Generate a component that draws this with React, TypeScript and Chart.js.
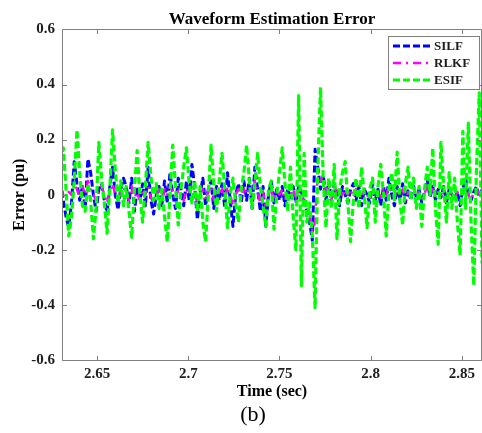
import React, { useEffect, useRef } from "react";
import { Chart, registerables } from "chart.js";

Chart.register(...registerables);

const FONT = "'Liberation Serif', 'Times New Roman', serif";

// sampling grid of the recorded signals
const t0 = 2.63;
const dt = 0.0015;

// axis limits and ticks
const X_MIN = 2.6308;
const X_MAX = 2.861;
const Y_MIN = -0.6;
const Y_MAX = 0.6;
const xTicks = [2.65, 2.7, 2.75, 2.8, 2.85];
const xTickLabels = ["2.65", "2.7", "2.75", "2.8", "2.85"];
const yTicks = [-0.6, -0.4, -0.2, 0, 0.2, 0.4, 0.6];
const yTickLabels = ["-0.6", "-0.4", "-0.2", "0", "0.2", "0.4", "0.6"];

const seriesNames = ["SILF", "RLKF", "ESIF"];
const chartTitle = "Waveform Estimation Error";
const panelLabel = "(b)";

const esif = [
  0.12, 0.17, 0.02, -0.15, -0.08, 0.05, 0.235, 0.08, -0.04, -0.06,
  0.04, -0.02, -0.16, -0.05, 0.19, 0.06, -0.03, -0.14, 0.02, 0.235,
  0.09, -0.03, 0.05, -0.04, 0.03, -0.06, -0.155, 0.02, 0.16, 0.0,
  -0.1, 0.03, 0.19, 0.07, -0.02, 0.04, -0.05, 0.02, -0.08, -0.17,
  0.0, 0.18, 0.03, -0.11, 0.02, 0.1, 0.17, 0.04, -0.03, 0.05,
  -0.06, 0.03, -0.1, -0.17, 0.0, 0.18, 0.04, -0.06, 0.05, 0.15,
  0.02, -0.12, 0.0, 0.06, -0.03, -0.1, 0.02, 0.08, 0.18, 0.05,
  -0.05, 0.04, 0.15, 0.03, -0.04, -0.115, 0.02, 0.05, -0.125, 0.0,
  0.08, 0.17, 0.04, -0.06, 0.1, -0.08, -0.2, 0.36, -0.33, 0.15,
  -0.1, -0.03, -0.15, -0.41, 0.1, 0.39, 0.05, -0.12, 0.06, -0.05,
  0.11, -0.16, 0.02, 0.08, 0.12, -0.03, -0.17, -0.02, 0.06, -0.05,
  0.1, 0.0, -0.12, 0.02, 0.06, -0.1, 0.03, 0.11, 0.0, -0.15,
  0.02, 0.08, -0.02, 0.155, -0.02, -0.11, 0.04, 0.1, -0.02, 0.06,
  -0.05, 0.03, -0.115, 0.02, 0.1, 0.0, 0.17, -0.05, -0.18, 0.19,
  0.03, -0.1, 0.08, -0.05, 0.06, -0.1, -0.22, 0.23, -0.05, 0.26,
  -0.1, -0.33, 0.1, 0.37, -0.25,
];

const silf = [
  0.05, -0.02, -0.08, -0.12, -0.03, 0.12, 0.04, -0.02, 0.03, -0.05,
  0.13, 0.08, 0.0, -0.06, 0.02, 0.04, -0.02, -0.065, 0.03, 0.1,
  0.0, -0.055, 0.02, 0.06, 0.03, -0.03, 0.06, -0.06, 0.02, -0.02,
  0.04, -0.04, 0.1, -0.02, -0.07, 0.0, 0.03, -0.04, 0.05, -0.03,
  0.08, 0.0, -0.05, 0.06, 0.02, -0.04, 0.05, -0.02, 0.11, 0.03,
  -0.09, 0.0, 0.06, -0.04, 0.02, 0.05, -0.05, 0.03, -0.02, 0.04,
  -0.045, 0.08, -0.02, -0.115, 0.0, 0.04, -0.03, 0.05, -0.02, 0.06,
  -0.05, 0.1, 0.02, -0.06, 0.03, -0.115, 0.0, 0.05, -0.03, 0.02,
  -0.02, 0.03, -0.04, 0.02, -0.02, 0.03, -0.03, 0.03, 0.01, -0.02,
  -0.06, -0.1, -0.165, 0.165, 0.1, 0.02, 0.07, -0.02, 0.05, -0.03,
  0.04, 0.0, -0.04, 0.03, 0.0, -0.03, 0.02, 0.04, -0.02, 0.03,
  -0.04, 0.02, 0.0, -0.03, 0.04, -0.02, 0.02, -0.04, 0.03, -0.02,
  0.06, 0.0, -0.04, 0.03, -0.02, 0.04, -0.03, 0.02, -0.02, 0.03,
  -0.01, 0.02, -0.03, 0.01, 0.055, -0.01, 0.03, -0.02, 0.02, -0.01,
  0.03, -0.03, 0.02, 0.0, -0.02, 0.01, -0.04, 0.02, 0.06, 0.0,
  -0.02, 0.01, 0.03, -0.01, 0.02,
];

const rlkf = [
  0.02, 0.0, -0.02, 0.01, 0.0, 0.04, 0.02, -0.01, 0.03, 0.0,
  0.05, 0.02, 0.0, -0.02, 0.01, 0.03, 0.0, -0.03, 0.01, 0.04,
  0.0, -0.02, 0.02, 0.03, 0.0, -0.02, 0.03, -0.01, 0.01, -0.02,
  0.02, 0.0, 0.03, -0.01, -0.03, 0.0, 0.02, -0.02, 0.02, 0.0,
  0.03, 0.01, -0.02, 0.02, 0.0, -0.02, 0.02, 0.0, 0.04, 0.01,
  -0.03, 0.0, 0.02, -0.02, 0.01, 0.03, -0.02, 0.01, 0.0, 0.02,
  -0.02, 0.03, 0.0, -0.04, 0.0, 0.02, -0.01, 0.02, 0.0, 0.03,
  -0.01, 0.05, 0.01, -0.03, 0.01, -0.05, 0.0, 0.02, -0.02, 0.01,
  0.0, 0.02, -0.02, 0.01, 0.0, 0.02, -0.01, 0.01, 0.0, -0.02,
  -0.05, -0.08, -0.13, -0.1, 0.08, 0.05, 0.07, 0.0, 0.05, -0.02,
  0.04, 0.0, 0.03, -0.01, 0.02, 0.0, 0.02, -0.01, 0.02, 0.0,
  -0.01, 0.02, 0.0, -0.02, 0.02, 0.0, 0.01, -0.01, 0.02, 0.0,
  0.03, 0.01, -0.01, 0.02, 0.0, 0.02, -0.02, 0.01, 0.0, 0.02,
  0.0, 0.01, -0.02, 0.0, 0.04, 0.0, 0.02, -0.01, 0.01, 0.0,
  0.02, -0.02, 0.01, 0.0, -0.01, 0.01, -0.02, 0.01, 0.04, 0.0,
  -0.02, 0.01, 0.02, 0.0, 0.01,
];

const COLORS: Record<string, string> = { SILF: "#0000ff", RLKF: "#ff00ff", ESIF: "#00ff00" };
const DASHES: Record<string, number[]> = { SILF: [7, 3], RLKF: [8, 5, 2, 5], ESIF: [7, 3] };
const WIDTHS: Record<string, number> = { SILF: 3, RLKF: 2.5, ESIF: 3.2 };
const AXIS_COLOR = "#808080";
const TEXT_COLOR = "#1e1e1e";

const framePlugin = {
  id: "frame",
  afterDatasetsDraw(chart: any) {
    const { ctx, chartArea } = chart;
    const { left, right, top, bottom } = chartArea;
    const xs = chart.scales.x;
    const ys = chart.scales.y;
    ctx.save();
    ctx.strokeStyle = AXIS_COLOR;
    ctx.lineWidth = 1;
    ctx.setLineDash([]);
    const L = Math.round(left) + 0.5;
    const T = Math.round(top) + 0.5;
    const B = Math.round(bottom) + 0.5;
    const R = Math.round(right) - 0.5;
    ctx.beginPath();
    ctx.moveTo(L, T);
    ctx.lineTo(R, T);
    ctx.lineTo(R, B);
    ctx.lineTo(L, B);
    ctx.closePath();
    ctx.stroke();
    const tl = 4.5;
    ctx.beginPath();
    xTicks.forEach((v) => {
      const px = Math.round(xs.getPixelForValue(v)) + 0.5;
      ctx.moveTo(px, B);
      ctx.lineTo(px, B - tl);
      ctx.moveTo(px, T);
      ctx.lineTo(px, T + tl);
    });
    yTicks.forEach((v) => {
      const py = Math.round(ys.getPixelForValue(v)) + 0.5;
      ctx.moveTo(L, py);
      ctx.lineTo(L + tl, py);
      ctx.moveTo(R, py);
      ctx.lineTo(R - tl, py);
    });
    ctx.stroke();

    // title centred over the plot area, panel label below the axis title
    ctx.fillStyle = "#000";
    ctx.textAlign = "center";
    ctx.textBaseline = "middle";
    ctx.font = `bold 17px ${FONT}`;
    ctx.fillText(chartTitle, (left + right) / 2, 19.5);
    ctx.font = `normal 22px ${FONT}`;
    ctx.fillText(panelLabel, 253, 415);
    ctx.restore();
  },
};

const legendPlugin = {
  id: "boxLegend",
  afterDraw(chart: any) {
    const { ctx } = chart;
    const bx = 388.5, by = 36.5, bw = 91, bh = 53;
    ctx.save();
    ctx.fillStyle = "#ffffff";
    ctx.fillRect(bx, by, bw, bh);
    ctx.strokeStyle = AXIS_COLOR;
    ctx.lineWidth = 1;
    ctx.setLineDash([]);
    ctx.strokeRect(bx, by, bw, bh);
    const rows = [46, 63, 80];
    seriesNames.forEach((name, i) => {
      const y = rows[i];
      ctx.strokeStyle = COLORS[name];
      ctx.lineWidth = WIDTHS[name];
      ctx.setLineDash(DASHES[name]);
      ctx.beginPath();
      ctx.moveTo(393, y);
      ctx.lineTo(432, y);
      ctx.stroke();
      ctx.setLineDash([]);
      ctx.fillStyle = TEXT_COLOR;
      ctx.font = `bold 13px ${FONT}`;
      ctx.textAlign = "left";
      ctx.textBaseline = "middle";
      ctx.fillText(name, 434, y + 0.5);
    });
    ctx.restore();
  },
};

export default function App() {
  const ref = useRef<HTMLCanvasElement>(null);
  useEffect(() => {
    document.body.style.margin = "0";
    const times = esif.map((_, i) => +(t0 + i * dt).toFixed(5));
    const mk = (vals: number[]) => vals.map((v, i) => ({ x: times[i], y: v }));
    const valuesByName: Record<string, number[]> = { SILF: silf, RLKF: rlkf, ESIF: esif };
    // drawing order: first dataset on top -> ESIF on top, SILF at the bottom
    const order = ["ESIF", "RLKF", "SILF"];
    const datasets = order.map((name) => ({
      label: name,
      data: mk(valuesByName[name]),
      borderColor: COLORS[name],
      backgroundColor: COLORS[name],
      borderWidth: WIDTHS[name],
      borderDash: DASHES[name],
      borderJoinStyle: "round",
      borderCapStyle: "butt",
      pointRadius: 0,
      tension: 0,
      fill: false,
    }));
    const tickFont = { family: FONT, size: 15, weight: "bold" as const };
    const chart = new Chart(ref.current as HTMLCanvasElement, {
      type: "line",
      data: { datasets },
      options: {
        animation: false,
        responsive: false,
        maintainAspectRatio: false,
        events: [],
        layout: { padding: { left: 0, right: 0, top: 29.4, bottom: 31.2 } },
        plugins: {
          legend: { display: false },
          tooltip: { enabled: false },
          title: { display: false },
        },
        scales: {
          x: {
            type: "linear",
            min: X_MIN,
            max: X_MAX,
            afterBuildTicks: (s: any) => {
              s.ticks = xTicks.map((v) => ({ value: v }));
            },
            afterFit: (s: any) => {
              s.height = 41.8;
            },
            ticks: {
              autoSkip: false,
              maxRotation: 0,
              padding: 5,
              color: TEXT_COLOR,
              font: tickFont,
              callback: (v: any) => {
                const k = xTicks.findIndex((t) => Math.abs(t - Number(v)) < 1e-9);
                return k >= 0 ? xTickLabels[k] : "";
              },
            },
            grid: { display: false, drawTicks: false },
            border: { display: false },
            title: {
              display: true,
              text: "Time (sec)",
              color: "#000",
              font: { family: FONT, size: 16, weight: "bold" },
              padding: { top: 0, bottom: 0 },
            },
          },
          y: {
            type: "linear",
            min: Y_MIN,
            max: Y_MAX,
            afterBuildTicks: (s: any) => {
              s.ticks = yTicks.map((v) => ({ value: v }));
            },
            afterFit: (s: any) => {
              s.width = 62;
            },
            ticks: {
              autoSkip: false,
              padding: 7,
              color: TEXT_COLOR,
              font: tickFont,
              callback: (v: any) => {
                const k = yTicks.findIndex((t) => Math.abs(t - Number(v)) < 1e-9);
                return k >= 0 ? yTickLabels[k] : "";
              },
            },
            grid: { display: false, drawTicks: false },
            border: { display: false },
            title: {
              display: true,
              text: "Error (pu)",
              color: "#000",
              font: { family: FONT, size: 16, weight: "bold" },
              padding: { top: 10.4, bottom: 0 },
            },
          },
        },
      },
      plugins: [framePlugin, legendPlugin],
    } as any);
    return () => chart.destroy();
  }, []);
  return (
    <div style={{ position: "absolute", left: 0, top: 0, width: 482, height: 433, background: "#fff" }}>
      <canvas ref={ref} width={482} height={433} style={{ display: "block", width: 482, height: 433 }} />
    </div>
  );
}
